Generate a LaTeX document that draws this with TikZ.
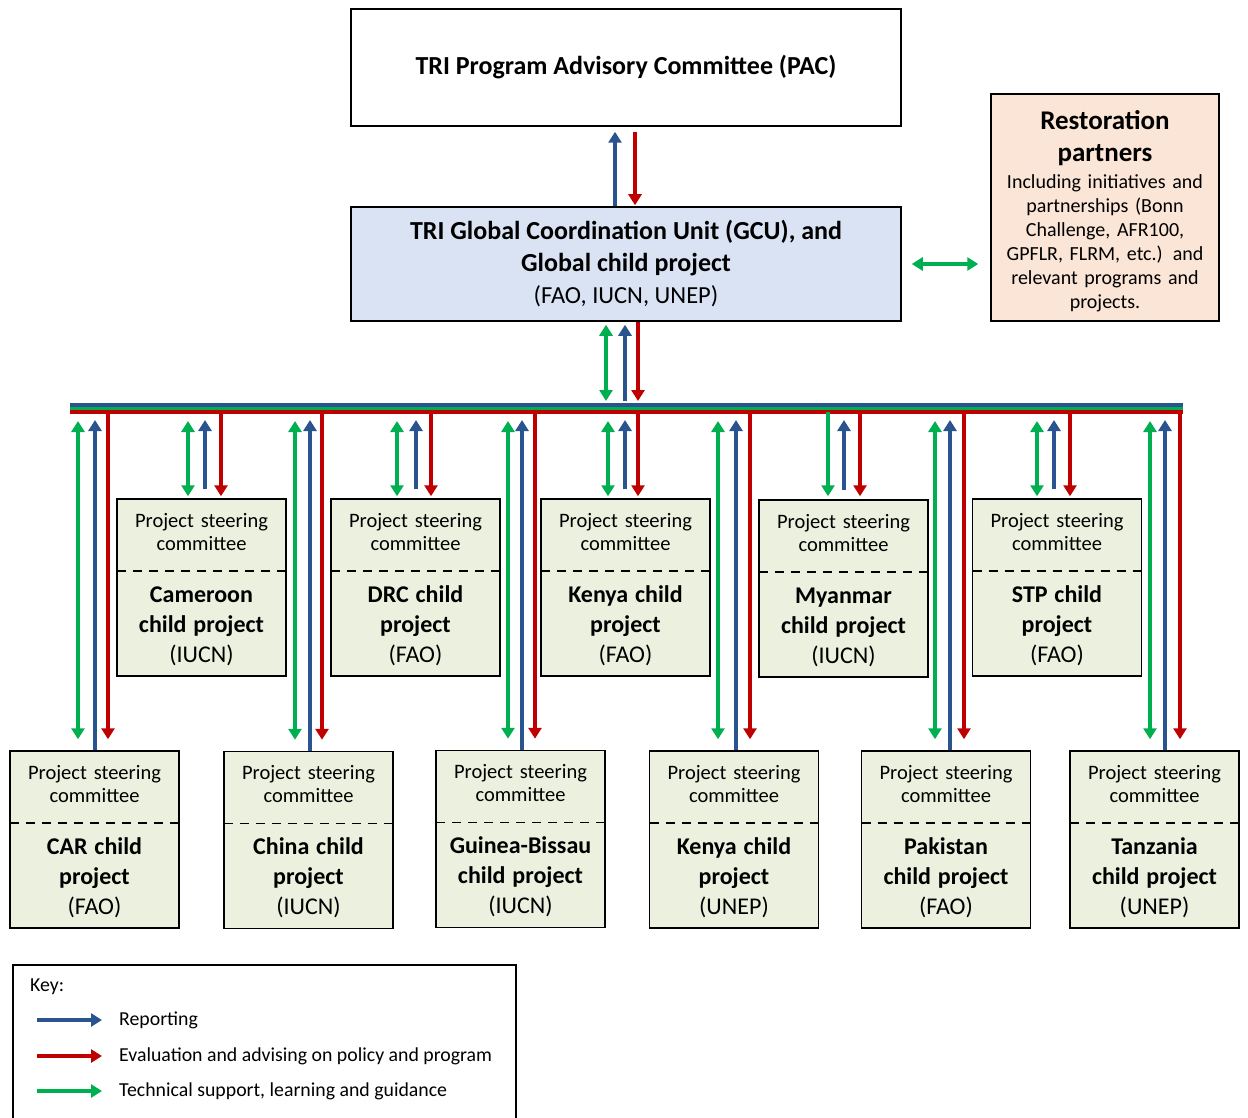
\documentclass[tikz,border=0pt]{standalone}
\usepackage{fontspec}
\setmainfont{Carlito}
\usetikzlibrary{arrows.meta}
\definecolor{repblue}{HTML}{2A5490}
\definecolor{evalred}{HTML}{C00000}
\definecolor{techgreen}{HTML}{00B050}
\definecolor{gcufill}{HTML}{DAE3F3}
\definecolor{partfill}{HTML}{FBE5D6}
\definecolor{childfill}{HTML}{EBF1DE}
\begin{document}
\begin{tikzpicture}
    [x=1pt, y=-1pt, >={Triangle[width=13pt,length=11pt]},
     box/.style={draw, line width=1.5pt, align=center, inner sep=0pt},
     child/.style={box, fill=childfill, minimum width=169pt, minimum height=177pt,
       text width=165pt, font=\fontsize{20.5}{23}\selectfont,
       path picture={\draw[line width=1.5pt, dash pattern=on 9pt off 7pt]
         ([yshift=-72pt]path picture bounding box.north west) --
         ([yshift=-72pt]path picture bounding box.north east);}},
     rep/.style={->, line width=3.5pt, repblue},
     eval/.style={->, line width=3.5pt, evalred},
     tec/.style={->, line width=3.5pt, techgreen},
     tec2/.style={<->, line width=3.5pt, techgreen},
     bus/.style={line width=3.4pt},
     keytext/.style={anchor=west, inner sep=0pt, font=\fontsize{19.8}{22}\selectfont}]
    \useasboundingbox (0,0) rectangle (1248,1118);
    % top of the structure
    \node [box, minimum width=550pt, minimum height=117pt,
      font=\fontsize{26}{30}\selectfont\bfseries] (pac) at (626,67.5)
      {TRI Program Advisory Committee (PAC)};
    \node [box, fill=gcufill, minimum width=550pt, minimum height=114pt,
      font=\fontsize{26}{32}\selectfont] (gcu) at (626,264)
      {\textbf{TRI Global Coordination Unit (GCU), and}\\
       \textbf{Global child project}\\{\fontsize{24.5}{32}\selectfont(FAO, IUCN, UNEP)}};
    \node [box, fill=partfill, minimum width=228pt, minimum height=227pt,
      text width=224pt, font=\fontsize{20}{24}\selectfont] (partners) at (1105,207.5)
      {{\fontsize{27}{32}\selectfont\bfseries\rule{0pt}{27pt}Restoration\\partners\par}
       \vspace{3pt}Including initiatives and\\partnerships (Bonn\\Challenge, AFR100,\\
       GPFLR, FLRM, etc.) and\\relevant programs and\\projects.\par};
    \draw [rep, shorten >=5pt, transform canvas={xshift=-11pt}] (gcu.north) -- (pac.south);
    \draw [eval, shorten <=5pt, shorten >=1pt, transform canvas={xshift=9pt}] (pac.south) -- (gcu.north);
    \draw [tec2, shorten <=10pt, shorten >=12pt] (gcu.east) -- (gcu.east -| partners.west);
    % bus
    \coordinate (busB) at (70,405);
    \coordinate (busG) at (70,408.5);
    \coordinate (busR) at (70,412);
    \coordinate (busend) at (1183,405);
    \draw [bus, repblue] (busB) -- (busB -| busend);
    \draw [bus, techgreen] (busG) -- (busG -| busend);
    \draw [bus, evalred] (busR) -- (busR -| busend);
    \draw [tec2, shorten <=3pt, shorten >=4pt, transform canvas={xshift=-20pt}] (gcu.south) -- (gcu.south |- busB);
    \draw [rep, shorten <=4pt, shorten >=3pt, transform canvas={xshift=-1pt}] (gcu.south |- busB) -- (gcu.south);
    \draw [eval, shorten >=4pt, transform canvas={xshift=12pt}] (gcu.south) -- (gcu.south |- busB);
    % child projects, upper row
    \node [child] (cam) at (201.5,587.5)
      {\rule{0pt}{18pt}Project steering\\committee\\[22pt]\fontsize{24}{30}\selectfont
       \textbf{Cameroon}\\\textbf{child project}\\(IUCN)\par};
    \node [child] (drc) at (415.5,587.5)
      {\rule{0pt}{18pt}Project steering\\committee\\[22pt]\fontsize{24}{30}\selectfont
       \textbf{DRC child}\\\textbf{project}\\(FAO)\par};
    \node [child] (kenyaF) at (625.5,587.5)
      {\rule{0pt}{18pt}Project steering\\committee\\[22pt]\fontsize{24}{30}\selectfont
       \textbf{Kenya child}\\\textbf{project}\\(FAO)\par};
    \node [child] (mya) at (843.5,588.5)
      {\rule{0pt}{18pt}Project steering\\committee\\[22pt]\fontsize{24}{30}\selectfont
       \textbf{Myanmar}\\\textbf{child project}\\(IUCN)\par};
    \node [child] (stp) at (1057,587.5)
      {\rule{0pt}{18pt}Project steering\\committee\\[22pt]\fontsize{24}{30}\selectfont
       \textbf{STP child}\\\textbf{project}\\(FAO)\par};
    % child projects, lower row
    \node [child] (car) at (94.5,839.5)
      {\rule{0pt}{18pt}Project steering\\committee\\[22pt]\fontsize{24}{30}\selectfont
       \textbf{CAR child}\\\textbf{project}\\(FAO)\par};
    \node [child] (china) at (308.5,840)
      {\rule{0pt}{18pt}Project steering\\committee\\[22pt]\fontsize{24}{30}\selectfont
       \textbf{China child}\\\textbf{project}\\(IUCN)\par};
    \node [child] (gb) at (520.5,839)
      {\rule{0pt}{18pt}Project steering\\committee\\[22pt]\fontsize{24}{30}\selectfont
       \textbf{Guinea-Bissau}\\\textbf{child project}\\(IUCN)\par};
    \node [child] (kenyaU) at (734,839.5)
      {\rule{0pt}{18pt}Project steering\\committee\\[22pt]\fontsize{24}{30}\selectfont
       \textbf{Kenya child}\\\textbf{project}\\(UNEP)\par};
    \node [child] (pak) at (946,839.5)
      {\rule{0pt}{18pt}Project steering\\committee\\[22pt]\fontsize{24}{30}\selectfont
       \textbf{Pakistan}\\\textbf{child project}\\(FAO)\par};
    \node [child] (tz) at (1154.5,839.5)
      {\rule{0pt}{18pt}Project steering\\committee\\[22pt]\fontsize{24}{30}\selectfont
       \textbf{Tanzania}\\\textbf{child project}\\(UNEP)\par};
    % short links, upper row
    \draw [tec2, shorten <=2pt, shorten >=9pt, transform canvas={xshift=-13.5pt}] (cam.north) -- (cam.north |- busR);
    \draw [rep, shorten <=9pt, shorten >=8pt, transform canvas={xshift=3.5pt}] (cam.north) -- (cam.north |- busR);
    \draw [eval, shorten >=2pt, transform canvas={xshift=19.5pt}] (cam.north |- busR) -- (cam.north);
    \draw [tec2, shorten <=2pt, shorten >=9pt, transform canvas={xshift=-18.5pt}] (drc.north) -- (drc.north |- busR);
    \draw [rep, shorten <=9pt, shorten >=8pt, transform canvas={xshift=0.5pt}] (drc.north) -- (drc.north |- busR);
    \draw [eval, shorten >=2pt, transform canvas={xshift=15.5pt}] (drc.north |- busR) -- (drc.north);
    \draw [tec2, shorten <=2pt, shorten >=9pt, transform canvas={xshift=-17.5pt}] (kenyaF.north) -- (kenyaF.north |- busR);
    \draw [rep, shorten <=9pt, shorten >=8pt, transform canvas={xshift=-0.5pt}] (kenyaF.north) -- (kenyaF.north |- busR);
    \draw [eval, shorten >=2pt, transform canvas={xshift=12.5pt}] (kenyaF.north |- busR) -- (kenyaF.north);
    \draw [tec, shorten >=3pt, transform canvas={xshift=-15.5pt}] (mya.north |- busR) -- (mya.north);
    \draw [rep, shorten <=9pt, shorten >=8pt, transform canvas={xshift=0.5pt}] (mya.north) -- (mya.north |- busR);
    \draw [eval, shorten >=3pt, transform canvas={xshift=16.5pt}] (mya.north |- busR) -- (mya.north);
    \draw [tec2, shorten <=2pt, shorten >=9pt, transform canvas={xshift=-20pt}] (stp.north) -- (stp.north |- busR);
    \draw [rep, shorten <=9pt, shorten >=8pt, transform canvas={xshift=-3pt}] (stp.north) -- (stp.north |- busR);
    \draw [eval, shorten >=2pt, transform canvas={xshift=13pt}] (stp.north |- busR) -- (stp.north);
    % long links, lower row
    \draw [tec2, shorten <=11pt, shorten >=9pt, transform canvas={xshift=-16.5pt}] (car.north) -- (car.north |- busR);
    \draw [rep, shorten >=8pt, transform canvas={xshift=0.5pt}] (car.north) -- (car.north |- busR);
    \draw [eval, shorten >=11pt, transform canvas={xshift=13.5pt}] (car.north |- busR) -- (car.north);
    \draw [tec2, shorten <=11pt, shorten >=9pt, transform canvas={xshift=-13.5pt}] (china.north) -- (china.north |- busR);
    \draw [rep, shorten >=8pt, transform canvas={xshift=1.5pt}] (china.north) -- (china.north |- busR);
    \draw [eval, shorten >=11pt, transform canvas={xshift=13.5pt}] (china.north |- busR) -- (china.north);
    \draw [tec2, shorten <=11pt, shorten >=9pt, transform canvas={xshift=-12.5pt}] (gb.north) -- (gb.north |- busR);
    \draw [rep, shorten >=8pt, transform canvas={xshift=1.5pt}] (gb.north) -- (gb.north |- busR);
    \draw [eval, shorten >=11pt, transform canvas={xshift=14.5pt}] (gb.north |- busR) -- (gb.north);
    \draw [tec2, shorten <=11pt, shorten >=9pt, transform canvas={xshift=-16pt}] (kenyaU.north) -- (kenyaU.north |- busR);
    \draw [rep, shorten >=8pt, transform canvas={xshift=2pt}] (kenyaU.north) -- (kenyaU.north |- busR);
    \draw [eval, shorten >=11pt, transform canvas={xshift=16pt}] (kenyaU.north |- busR) -- (kenyaU.north);
    \draw [tec2, shorten <=11pt, shorten >=9pt, transform canvas={xshift=-11pt}] (pak.north) -- (pak.north |- busR);
    \draw [rep, shorten >=8pt, transform canvas={xshift=4pt}] (pak.north) -- (pak.north |- busR);
    \draw [eval, shorten >=11pt, transform canvas={xshift=18pt}] (pak.north |- busR) -- (pak.north);
    \draw [tec2, shorten <=11pt, shorten >=9pt, transform canvas={xshift=-4.5pt}] (tz.north) -- (tz.north |- busR);
    \draw [rep, shorten >=8pt, transform canvas={xshift=10.5pt}] (tz.north) -- (tz.north |- busR);
    \draw [eval, shorten >=11pt, transform canvas={xshift=25.5pt}] (tz.north |- busR) -- (tz.north);
    % key
    \node [box, anchor=north west, minimum width=503pt, minimum height=170pt] (key) at (12,964) {};
    \node [keytext] (keyhead) at (30,987) {Key:};
    \node [keytext] (lrep) at (119,1020) {Reporting};
    \node [keytext] (leval) at (119,1056) {Evaluation and advising on policy and program};
    \node [keytext] (ltec) at (119,1091) {Technical support, learning and guidance};
    \draw [rep] ([xshift=-82pt]lrep.west) -- ([xshift=-17pt]lrep.west);
    \draw [eval] ([xshift=-82pt]leval.west) -- ([xshift=-17pt]leval.west);
    \draw [tec] ([xshift=-82pt]ltec.west) -- ([xshift=-17pt]ltec.west);
\end{tikzpicture}
\end{document}
